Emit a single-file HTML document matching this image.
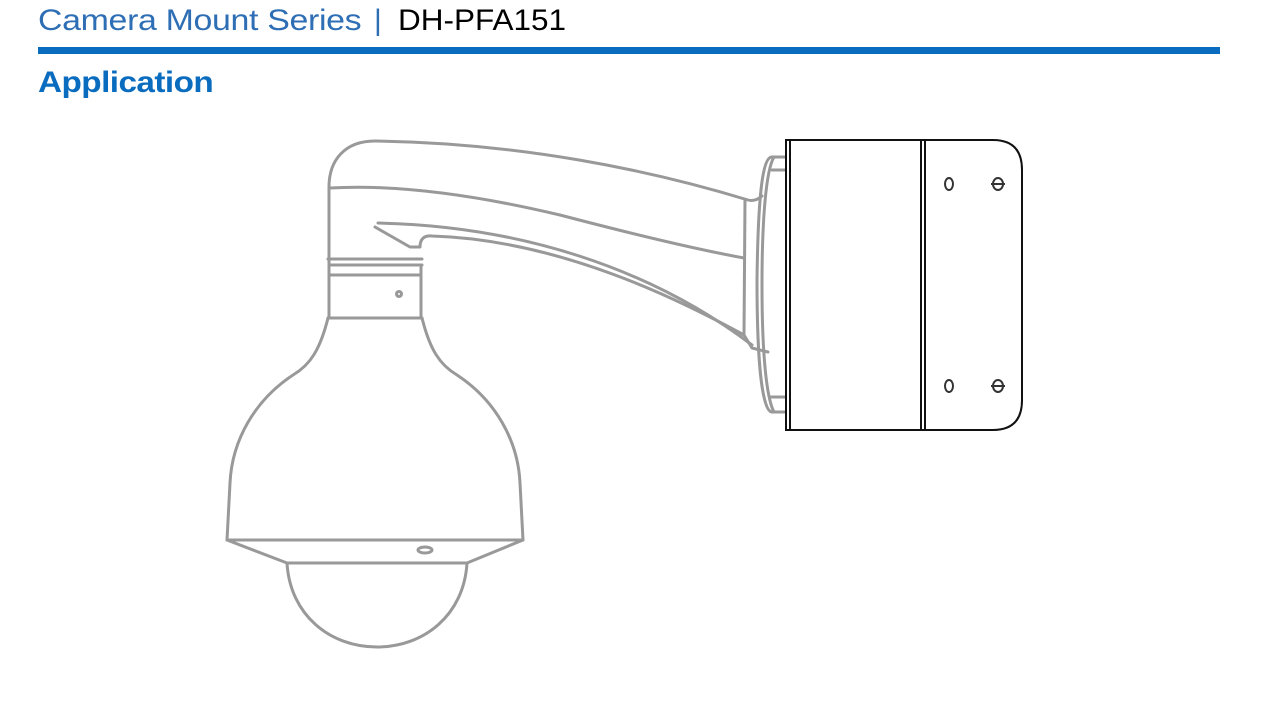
<!DOCTYPE html>
<html><head><meta charset="utf-8"><style>
html,body{margin:0;padding:0;background:#fff;width:1269px;height:710px;overflow:hidden}
.t{position:absolute;white-space:nowrap;transform-origin:0 0;font-family:"Liberation Sans",sans-serif}
.a{left:38px;top:4px;font-size:30px;color:#2e6eb5;transform:scaleX(1.13);letter-spacing:-0.3px}
.p{left:374px;top:4px;font-size:30px;color:#2e6eb5}
.b{left:398px;top:4px;font-size:30px;color:#000;transform:scaleX(1.05)}
.bar{position:absolute;left:38px;top:47px;width:1182px;height:7px;background:#0a6cbf}
.c{left:38px;top:66px;font-size:30px;font-weight:bold;color:#0a6cbf;transform:scaleX(1.11);letter-spacing:-0.5px}
svg{position:absolute;left:0;top:0}
</style></head><body>
<div class="t a">Camera Mount Series</div>
<div class="t p">|</div>
<div class="t b">DH-PFA151</div>
<div class="bar"></div>
<div class="t c">Application</div>
<svg width="1269" height="710" viewBox="0 0 1269 710">
<g fill="none" stroke="#999" stroke-width="3" stroke-linejoin="round" stroke-linecap="round">
<path d="M329,187 C329,160 345,141 375,141 C520,143 650,170 748,200 Q755,202 762,196"/>
<path d="M330,188 C400,184 480,196 560,215 C640,236 700,250 744,258"/>
<path d="M375,227 L410,247 L420,247 Q420,235 432,236 C560,240 680,300 744,335"/>
<path d="M378,223 C520,226 650,268 752,345"/>
<path d="M329,187 L329,318"/>
<path d="M421,265 L421,318"/>
<path d="M745,200 L744,335 L752,348 L768,352"/>
<path d="M328,259 L422,259 M330,265 L422,265 M329,275 L421,275 M328,318 L422,318"/>
<circle cx="399" cy="294" r="2.5"/>
<path d="M328,318 C320,350 310,365 293,375 C255,400 232,440 230,483 L227,540 L523,540 L520,483 C518,440 495,400 457,375 C440,365 430,350 422,318"/>
<path d="M227,540 L287,563 L467,563 L523,540"/>
<path d="M287,563 C290,615 330,647 377,647 C424,647 464,615 467,563"/>
<ellipse cx="425" cy="550" rx="7" ry="3"/>
<path d="M785,157 L772,157 C762,157 758,200 757,280 C757,360 762,412 772,412 L785,412"/>
<path d="M774,157 C766,170 762,220 762,285 C762,350 766,397 774,412"/>
<path d="M772,170 L785,170 M770,397 L785,397"/>
</g>
<g fill="none" stroke="#111" stroke-width="2">
<path d="M786,140 L993,140 Q1022,140 1022,170 L1022,400 Q1022,430 993,430 L786,430 Z"/>
<path d="M790,140 L790,430 M921,140 L921,430 M925,140 L925,430"/>
<g stroke="#333" stroke-width="2">
<ellipse cx="949" cy="184" rx="4" ry="6"/>
<ellipse cx="998" cy="184" rx="5" ry="6"/><path d="M991,184 L1005,184"/>
<ellipse cx="949" cy="386" rx="4" ry="6"/>
<ellipse cx="998" cy="386" rx="5" ry="6"/><path d="M991,386 L1005,386"/>
</g>
</g>
</svg>
</body></html>
